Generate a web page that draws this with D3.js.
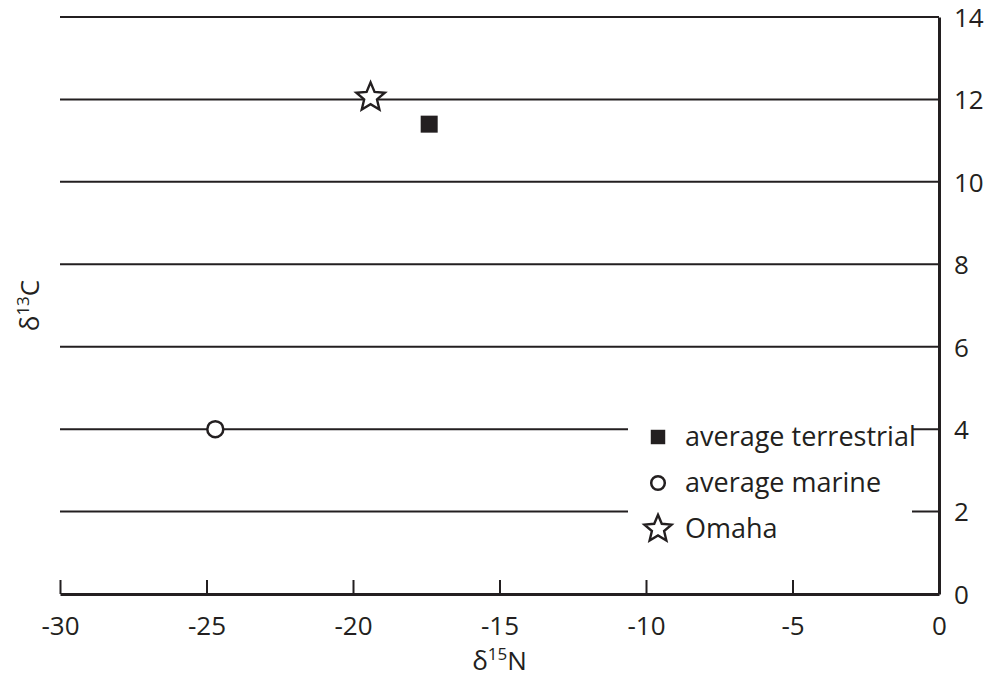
<!DOCTYPE html>
<html lang="en">
<head>
<meta charset="utf-8">
<style>
body { margin: 0; background: #fff; font-family: "Open Sans", sans-serif; }
text { fill: #231f20; }
</style>
<script src="https://cdn.jsdelivr.net/npm/d3@7"></script>
</head>
<body>
<div id="chart"></div>
<script>
// data
var seriesNames = ["average terrestrial", "average marine", "Omaha"];
var seriesShapes = ["square", "circle", "star"];
var xValues = [-17.4, -24.7, -19.4];   // d15N
var yValues = [11.4, 4.0, 12.05];      // d13C
var xTicks = [-30, -25, -20, -15, -10, -5, 0];
var yTicks = [0, 2, 4, 6, 8, 10, 12, 14];

var width = 986, height = 681;
var ink = "#231f20";
var fontSize = "26px";

var svg = d3.select("#chart").append("svg")
  .attr("width", width)
  .attr("height", height);

var x = d3.scaleLinear().domain([-30, 0]).range([60, 939]);
var y = d3.scaleLinear().domain([0, 14]).range([594, 17]);

// horizontal grid lines
svg.append("g")
  .selectAll("line")
  .data(yTicks.filter(function(d) { return d > 0; }))
  .enter().append("line")
  .attr("x1", x(-30)).attr("x2", x(0))
  .attr("y1", function(d) { return y(d); })
  .attr("y2", function(d) { return y(d); })
  .attr("stroke", ink).attr("stroke-width", 2);

// bottom axis, ticks pointing up
var xAxis = svg.append("g")
  .attr("transform", "translate(0," + y(0) + ")")
  .call(d3.axisBottom(x).tickValues(xTicks).tickSizeInner(-14).tickSizeOuter(0).tickPadding(0));
xAxis.select(".domain").attr("stroke", ink).attr("stroke-width", 3);
xAxis.selectAll(".tick line").attr("stroke", ink).attr("stroke-width", 2);
xAxis.selectAll(".tick text").text(function(d) { return d; })
  .attr("y", 41).attr("dy", 0)
  .style("font-size", fontSize).style("font-family", "Open Sans, sans-serif").attr("fill", ink);

// right axis
var yAxis = svg.append("g")
  .attr("transform", "translate(" + x(0) + ",0)")
  .call(d3.axisRight(y).tickValues(yTicks).tickSize(0).tickPadding(15));
yAxis.select(".domain").attr("stroke", ink).attr("stroke-width", 3);
yAxis.selectAll(".tick text")
  .attr("dy", "0.36em")
  .style("font-size", fontSize).style("font-family", "Open Sans, sans-serif").attr("fill", ink);

// axis titles
var xt = svg.append("text")
  .attr("x", x(-15)).attr("y", 670)
  .attr("text-anchor", "middle")
  .style("font-size", fontSize);
xt.append("tspan").text("δ");
xt.append("tspan").text("15").attr("dy", -10).style("font-size", "17px");
xt.append("tspan").text("N").attr("dy", 10);

var yt = svg.append("text")
  .attr("transform", "translate(39," + y(7) + ") rotate(-90)")
  .attr("text-anchor", "middle")
  .style("font-size", fontSize);
yt.append("tspan").text("δ");
yt.append("tspan").text("13").attr("dy", -10).style("font-size", "17px");
yt.append("tspan").text("C").attr("dy", 10);

// five-pointed star with a fairly fat inner radius
function starPath(r) {
  var pts = d3.range(10).map(function(i) {
    var a = i * Math.PI / 5;
    var rr = i % 2 === 0 ? r : r * 0.45;
    return [rr * Math.sin(a), -rr * Math.cos(a)];
  });
  return d3.line()(pts) + "Z";
}

function drawMarker(g, shape, big) {
  var k = big ? 1 : 0.85;
  if (shape === "square") {
    var s = 17 * k;
    g.append("rect").attr("x", -s / 2).attr("y", -s / 2).attr("width", s).attr("height", s)
      .attr("fill", ink);
  } else if (shape === "circle") {
    g.append("circle").attr("r", 8 * k).attr("fill", "#fff")
      .attr("stroke", ink).attr("stroke-width", 2.5);
  } else {
    g.append("path").attr("d", starPath(15 * (big ? 1 : 0.95))).attr("fill", "#fff")
      .attr("stroke", ink).attr("stroke-width", 2.4).attr("stroke-linejoin", "miter");
  }
}

// legend background hides grid lines
svg.append("rect")
  .attr("x", 628).attr("y", 412).attr("width", 284).attr("height", 135)
  .attr("fill", "#fff");

var legend = svg.append("g");
seriesNames.forEach(function(name, i) {
  var row = legend.append("g").attr("transform", "translate(658," + (437 + i * 46) + ")");
  drawMarker(row, seriesShapes[i], false);
  row.append("text").attr("x", 27).attr("y", 9).text(name).style("font-size", "27px");
});

// data points
seriesNames.forEach(function(name, i) {
  var g = svg.append("g").attr("transform", "translate(" + x(xValues[i]) + "," + y(yValues[i]) + ")");
  drawMarker(g, seriesShapes[i], true);
});
</script>
</body>
</html>
